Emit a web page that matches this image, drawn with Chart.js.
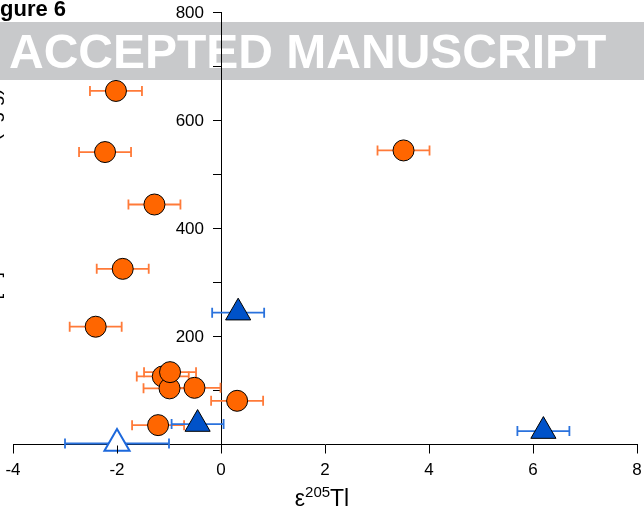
<!DOCTYPE html>
<html>
<head>
<meta charset="utf-8">
<script src="https://cdn.jsdelivr.net/npm/chart.js@4"></script>
<style>
  html, body { margin: 0; padding: 0; background: #fff; }
  #wrap { width: 644px; height: 510px; position: relative; }
</style>
</head>
<body>
<div id="wrap"><canvas id="fig6"></canvas></div>
<script>
const FONT = '"Liberation Sans", Arial, Helvetica, sans-serif';

// orange circles: eps205Tl, y value, x error
const circleX   = [-2.02, -2.23, -1.28, -1.89, 3.51, -2.41, -1.12, -0.99, -0.98, -0.51, 0.31, -1.21];
const circleY   = [654, 541, 444, 325, 544, 218, 126, 104, 134, 105, 81, 36];
const circleErr = [0.5, 0.5, 0.5, 0.5, 0.5, 0.5, 0.5, 0.5, 0.5, 0.5, 0.5, 0.5];

// filled blue triangles
const triX   = [0.33, -0.45, 6.2];
const triY   = [244, 38, 25];
const triErr = [0.5, 0.5, 0.5];

// open blue triangle
const openX   = [-2.0];
const openY   = [2];
const openErr = [1.0];

const xTicks = [-4, -2, 0, 2, 4, 6, 8];
const yLabelTicks = [200, 400, 600, 800];

function toPoints(xs, ys, errs) {
    return xs.map((x, i) => ({ x: x, y: ys[i], err: errs[i] }));
}

// horizontal error bars, drawn under the markers
const errorBars = {
    id: 'errorBars',
    beforeDatasetsDraw(chart) {
        const { ctx, scales: { x, y } } = chart;
        ctx.save();
        chart.data.datasets.forEach(ds => {
            ctx.strokeStyle = ds.errColor;
            ctx.lineWidth = 1.8;
            ds.data.forEach(p => {
                const py = y.getPixelForValue(p.y);
                const x1 = x.getPixelForValue(p.x - p.err);
                const x2 = x.getPixelForValue(p.x + p.err);
                ctx.beginPath();
                ctx.moveTo(x1, py); ctx.lineTo(x2, py);
                ctx.moveTo(x1, py - 5); ctx.lineTo(x1, py + 5);
                ctx.moveTo(x2, py - 5); ctx.lineTo(x2, py + 5);
                ctx.stroke();
            });
        });
        ctx.restore();
    }
};

// banner, figure number, tick marks/labels and axis titles
const decorations = {
    id: 'decorations',
    beforeDraw(chart) {
        const ctx = chart.ctx;
        ctx.save();
        ctx.fillStyle = '#c8c9cb';
        ctx.fillRect(0, 22, chart.width, 58);
        ctx.fillStyle = '#fff';
        ctx.font = 'bold 48px ' + FONT;
        ctx.textBaseline = 'alphabetic';
        ctx.textAlign = 'left';
        ctx.fillText('ACCEPTED MANUSCRIPT', 9, 68);

        ctx.fillStyle = '#000';
        ctx.font = 'bold 22px ' + FONT;
        const fiW = ctx.measureText('Fi').width;
        ctx.fillText('Figure 6', -fiW, 16);
        ctx.restore();
    },
    afterDraw(chart) {
        const { ctx, scales: { x, y } } = chart;
        ctx.save();
        ctx.fillStyle = '#000';
        ctx.strokeStyle = '#000';
        ctx.lineWidth = 1;

        // x tick marks below the axis
        const axisY = Math.round(y.getPixelForValue(0)) + 0.5;
        ctx.beginPath();
        xTicks.forEach(v => {
            const px = Math.round(x.getPixelForValue(v)) + 0.5;
            ctx.moveTo(px, axisY);
            ctx.lineTo(px, axisY + 8);
        });
        ctx.stroke();

        // y tick labels, left of the axis crossing x = 0
        ctx.font = '17px ' + FONT;
        ctx.textAlign = 'right';
        ctx.textBaseline = 'middle';
        const labelRight = x.getPixelForValue(0) - 17;
        yLabelTicks.forEach(v => ctx.fillText(String(v), labelRight, y.getPixelForValue(v) + 1));

        // x title: epsilon 205 Tl
        ctx.textAlign = 'left';
        ctx.textBaseline = 'alphabetic';
        const big = '23px ' + FONT, small = '15px ' + FONT;
        ctx.font = big;
        const wE = ctx.measureText('\u03b5').width;
        const wT = ctx.measureText('Tl').width;
        ctx.font = small;
        const wS = ctx.measureText('205').width;
        let xx = 322 - (wE + wS + wT) / 2;
        const base = 506;
        ctx.font = big;
        ctx.fillText('\u03b5', xx, base); xx += wE;
        ctx.font = small;
        ctx.fillText('205', xx, base - 9); xx += wS;
        ctx.font = big;
        ctx.fillText('Tl', xx, base);

        // y title, mostly off the left edge
        ctx.translate(-0.5, 194);
        ctx.rotate(-Math.PI / 2);
        ctx.textAlign = 'center';
        ctx.font = '20px ' + FONT;
        ctx.fillText('[Tl] concentration (ng/g)', 0, 0);
        ctx.restore();
    }
};

const axisGrid = {
    drawOnChartArea: false,
    drawTicks: true,
    tickLength: 8,
    tickColor: '#000',
    tickWidth: 1
};

new Chart(document.getElementById('fig6'), {
    type: 'scatter',
    data: {
        datasets: [
            {
                label: 'circles',
                data: toPoints(circleX, circleY, circleErr),
                pointStyle: 'circle',
                pointRadius: 10.5,
                pointHoverRadius: 10.5,
                backgroundColor: '#ff6600',
                borderColor: '#000',
                borderWidth: 1,
                errColor: '#ff7a38',
                clip: false
            },
            {
                label: 'triangles',
                data: toPoints(triX, triY, triErr),
                pointStyle: 'triangle',
                pointRadius: 14.5,
                pointHoverRadius: 14.5,
                backgroundColor: '#0052c9',
                borderColor: '#000',
                borderWidth: 1,
                errColor: '#2a72dd',
                clip: false
            },
            {
                label: 'open triangle',
                data: toPoints(openX, openY, openErr),
                pointStyle: 'triangle',
                pointRadius: 14.5,
                pointHoverRadius: 14.5,
                backgroundColor: '#fff',
                borderColor: '#1c68dc',
                borderWidth: 2,
                errColor: '#2a72dd',
                clip: false
            }
        ]
    },
    options: {
        responsive: true,
        maintainAspectRatio: false,
        animation: false,
        devicePixelRatio: 1,
        layout: { autoPadding: false, padding: { left: 13, right: 7, top: 12, bottom: 21 } },
        plugins: {
            legend: { display: false },
            tooltip: { enabled: false }
        },
        scales: {
            x: {
                type: 'linear',
                min: -4,
                max: 8,
                afterFit: scale => { scale.paddingLeft = 0; scale.paddingRight = 0; },
                ticks: {
                    stepSize: 2,
                    color: '#000',
                    font: { family: FONT, size: 17 },
                    padding: 8,
                    autoSkip: false,
                    maxRotation: 0
                },
                grid: axisGrid,
                border: { display: true, color: '#000', width: 1 }
            },
            y: {
                type: 'linear',
                position: { x: 0 },
                min: 0,
                max: 800,
                afterFit: scale => { scale.paddingTop = 0; scale.paddingBottom = 0; },
                ticks: {
                    stepSize: 100,
                    autoSkip: false,
                    callback: () => ''
                },
                grid: axisGrid,
                border: { display: true, color: '#000', width: 1 }
            }
        }
    },
    plugins: [errorBars, decorations]
});
</script>
</body>
</html>
